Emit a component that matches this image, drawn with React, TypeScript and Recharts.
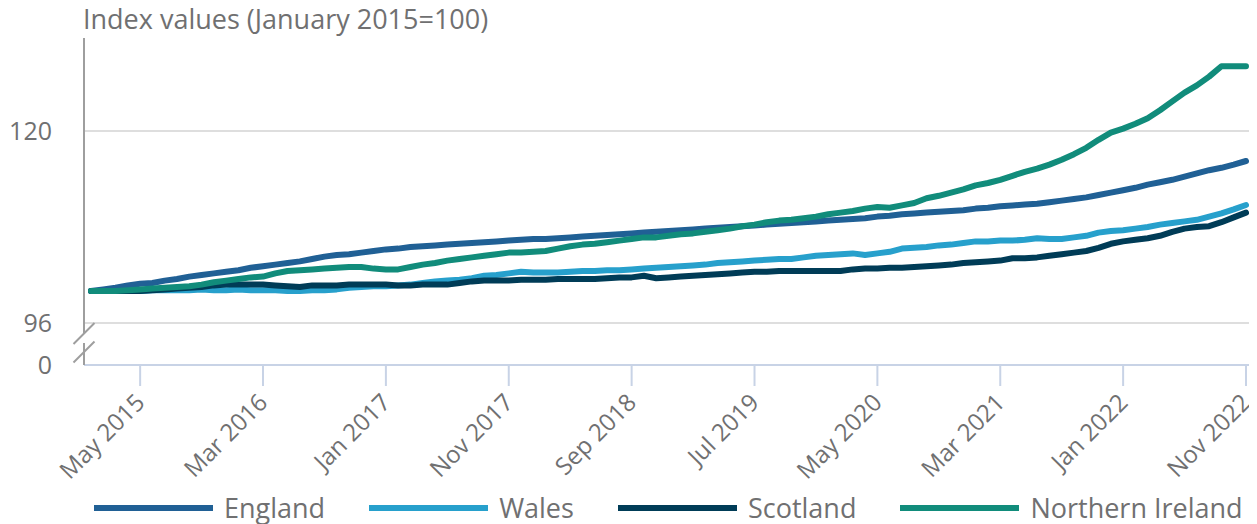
import React from 'react';
import { LineChart, Line, XAxis, YAxis, CartesianGrid } from 'recharts';

const MONTH_NAMES = ['Jan', 'Feb', 'Mar', 'Apr', 'May', 'Jun', 'Jul', 'Aug', 'Sep', 'Oct', 'Nov', 'Dec'];
const YEARS = [2015, 2016, 2017, 2018, 2019, 2020, 2021, 2022];
const LAST_LABEL = 'Nov 2022';
const categories: string[] = [];
outer: for (const yr of YEARS) {
  for (const m of MONTH_NAMES) {
    const lbl = `${m} ${yr}`;
    categories.push(lbl);
    if (lbl === LAST_LABEL) break outer;
  }
}

const england = [
  100.0, 100.2, 100.4, 100.7, 100.9, 101.0, 101.3, 101.5, 101.8, 102.0,
  102.2, 102.4, 102.6, 102.9, 103.1, 103.3, 103.5, 103.7, 104.0, 104.3,
  104.5, 104.6, 104.8, 105.0, 105.2, 105.3, 105.5, 105.6, 105.7, 105.8,
  105.9, 106.0, 106.1, 106.2, 106.3, 106.4, 106.5, 106.5, 106.6, 106.7,
  106.8, 106.9, 107.0, 107.1, 107.2, 107.3, 107.4, 107.5, 107.6, 107.7,
  107.8, 107.9, 108.0, 108.1, 108.2, 108.3, 108.4, 108.5, 108.6, 108.7,
  108.8, 108.9, 109.0, 109.1, 109.3, 109.4, 109.6, 109.7, 109.8, 109.9,
  110.0, 110.1, 110.3, 110.4, 110.6, 110.7, 110.8, 110.9, 111.1, 111.3,
  111.5, 111.7, 112.0, 112.3, 112.6, 112.9, 113.3, 113.6, 113.9, 114.3,
  114.7, 115.1, 115.4, 115.8, 116.25,
];

const wales = [
  100.0, 100.0, 100.0, 100.0, 100.0, 100.1, 100.1, 100.1, 100.1, 100.2,
  100.1, 100.1, 100.2, 100.1, 100.1, 100.1, 100.0, 100.0, 100.1, 100.1,
  100.2, 100.4, 100.5, 100.6, 100.6, 100.7, 100.8, 101.0, 101.2, 101.3,
  101.4, 101.6, 101.9, 102.0, 102.2, 102.4, 102.3, 102.3, 102.3, 102.4,
  102.5, 102.5, 102.6, 102.6, 102.7, 102.8, 102.9, 103.0, 103.1, 103.2,
  103.3, 103.5, 103.6, 103.7, 103.8, 103.9, 104.0, 104.0, 104.2, 104.4,
  104.5, 104.6, 104.7, 104.5, 104.7, 104.9, 105.3, 105.4, 105.5, 105.7,
  105.8, 106.0, 106.2, 106.2, 106.3, 106.3, 106.4, 106.6, 106.5, 106.5,
  106.7, 106.9, 107.3, 107.5, 107.6, 107.8, 108.0, 108.3, 108.5, 108.7,
  108.9, 109.3, 109.7, 110.2, 110.75,
];

const scotland = [
  100.0, 100.0, 100.0, 100.0, 100.0, 100.1, 100.2, 100.3, 100.4, 100.5,
  100.7, 100.8, 100.8, 100.8, 100.8, 100.7, 100.6, 100.5, 100.7, 100.7,
  100.7, 100.8, 100.8, 100.8, 100.8, 100.7, 100.7, 100.8, 100.8, 100.8,
  101.0, 101.2, 101.3, 101.3, 101.3, 101.4, 101.4, 101.4, 101.5, 101.5,
  101.5, 101.5, 101.6, 101.7, 101.7, 101.9, 101.6, 101.7, 101.8, 101.9,
  102.0, 102.1, 102.2, 102.3, 102.4, 102.4, 102.5, 102.5, 102.5, 102.5,
  102.5, 102.5, 102.7, 102.8, 102.8, 102.9, 102.9, 103.0, 103.1, 103.2,
  103.3, 103.5, 103.6, 103.7, 103.8, 104.1, 104.1, 104.2, 104.4, 104.6,
  104.8, 105.0, 105.4, 105.9, 106.2, 106.4, 106.6, 106.9, 107.4, 107.8,
  108.0, 108.1, 108.6, 109.2, 109.8,
];

const northernIreland = [
  100.0, 100.0, 100.0, 100.1, 100.2, 100.3, 100.4, 100.5, 100.6, 100.8,
  101.1, 101.3, 101.5, 101.7, 101.8, 102.2, 102.5, 102.6, 102.7, 102.8,
  102.9, 103.0, 103.0, 102.8, 102.7, 102.7, 103.0, 103.3, 103.5, 103.8,
  104.0, 104.2, 104.4, 104.6, 104.8, 104.8, 104.9, 105.0, 105.3, 105.6,
  105.8, 105.9, 106.1, 106.3, 106.5, 106.7, 106.7, 106.9, 107.1, 107.2,
  107.4, 107.6, 107.8, 108.1, 108.3, 108.6, 108.8, 108.9, 109.1, 109.3,
  109.6, 109.8, 110.0, 110.3, 110.5, 110.4, 110.7, 111.0, 111.6, 111.9,
  112.3, 112.7, 113.2, 113.5, 113.9, 114.4, 114.9, 115.3, 115.8, 116.4,
  117.1, 117.9, 118.9, 119.8, 120.3, 120.9, 121.6, 122.6, 123.7, 124.8,
  125.7, 126.8, 128.1, 128.1, 128.1,
];

const xTickLabels = ['May 2015', 'Mar 2016', 'Jan 2017', 'Nov 2017', 'Sep 2018', 'Jul 2019', 'May 2020', 'Mar 2021', 'Jan 2022', 'Nov 2022'];
const yTickValues = [90.75, 96, 120];
const yTickLabels = ['0', '96', '120'];
const yDomain: [number, number] = [90.75, 131.625];
const gridValues = [96, 120];
const titleText = 'Index values (January 2015=100)';

const SERIES = [
  { name: 'England', values: england, color: '#206095' },
  { name: 'Wales', values: wales, color: '#27a0cc' },
  { name: 'Scotland', values: scotland, color: '#003c57' },
  { name: 'Northern Ireland', values: northernIreland, color: '#118c7b' },
];

const data = categories.map((month, i) => {
  const row: Record<string, string | number> = { month };
  SERIES.forEach((s) => { row[s.name] = s.values[i]; });
  return row;
});

const TEXT = '#707071';
const FONT = "'Open Sans', sans-serif";
const AXIS_GREY = '#9e9e9e';
const X_AXIS_COLOR = '#c8d3e6';
const Y_TICK_MARGIN = 32;

const YTick = (props: any) => {
  const { x, y, payload } = props;
  const idx = yTickValues.indexOf(payload.value);
  const label = idx >= 0 ? yTickLabels[idx] : String(payload.value);
  const axisX = x + Y_TICK_MARGIN;
  const isBottom = idx === 0;
  return (
    <g>
      {isBottom && (
        <g>
          <rect x={axisX - 3} y={y - 32} width={6} height={10} fill="#fff" />
          <line x1={axisX - 10.5} y1={y - 21} x2={axisX + 10.5} y2={y - 42} stroke={AXIS_GREY} strokeWidth={2} />
          <line x1={axisX - 10.5} y1={y - 2.5} x2={axisX + 10.5} y2={y - 23.5} stroke={AXIS_GREY} strokeWidth={2} />
        </g>
      )}
      <text x={x} y={y} dy="0.36em" textAnchor="end" fill={TEXT} fontSize={25} fontFamily={FONT}>
        {label}
      </text>
    </g>
  );
};

const XTick = (props: any) => {
  const { x, y, payload } = props;
  const tx = x + 6;
  return (
    <text
      x={tx}
      y={y}
      textAnchor="end"
      fill={TEXT}
      fontSize={24}
      fontFamily={FONT}
      transform={`rotate(-45, ${tx}, ${y})`}
    >
      {payload.value}
    </text>
  );
};

export default function App() {
  return (
    <div style={{ position: 'relative', width: 1249, height: 516, fontFamily: FONT, background: '#fff' }}>
      <div
        style={{
          position: 'absolute',
          left: 75,
          top: -3,
          fontSize: 27,
          lineHeight: '27px',
          color: TEXT,
          whiteSpace: 'nowrap',
        }}
      >
        {titleText}
      </div>
      <LineChart
        width={1249}
        height={482}
        data={data}
        margin={{ top: 30, right: 4, left: 0, bottom: 0 }}
      >
        <CartesianGrid vertical={false} horizontalValues={gridValues} stroke="#dedede" strokeWidth={2} />
        <XAxis
          dataKey="month"
          type="category"
          ticks={xTickLabels}
          interval={0}
          padding={{ left: 7, right: 7 }}
          height={125}
          tickSize={21}
          tickMargin={18}
          axisLine={{ stroke: X_AXIS_COLOR, strokeWidth: 2 }}
          tickLine={{ stroke: X_AXIS_COLOR, strokeWidth: 2 }}
          tick={<XTick />}
        />
        <YAxis
          type="number"
          domain={yDomain}
          ticks={yTickValues}
          interval={0}
          width={76}
          tickSize={0}
          tickMargin={Y_TICK_MARGIN}
          tickLine={false}
          axisLine={{ stroke: AXIS_GREY, strokeWidth: 2 }}
          tick={<YTick />}
          allowDataOverflow
        />
        {SERIES.map((s) => (
          <Line
            key={s.name}
            type="linear"
            dataKey={s.name}
            stroke={s.color}
            strokeWidth={6}
            strokeLinecap="round"
            strokeLinejoin="round"
            dot={false}
            activeDot={false}
            isAnimationActive={false}
          />
        ))}
      </LineChart>
      <div
        style={{
          position: 'absolute',
          left: 86,
          top: 486,
          height: 27,
          display: 'flex',
          alignItems: 'center',
          whiteSpace: 'nowrap',
        }}
      >
        {SERIES.map((s, i) => (
          <div key={s.name} style={{ display: 'flex', alignItems: 'center', marginLeft: i === 0 ? 0 : 44 }}>
            <div style={{ width: 119, height: 6, background: s.color }} />
            <span style={{ marginLeft: 11, fontSize: 27, lineHeight: '27px', color: TEXT }}>{s.name}</span>
          </div>
        ))}
      </div>
    </div>
  );
}
